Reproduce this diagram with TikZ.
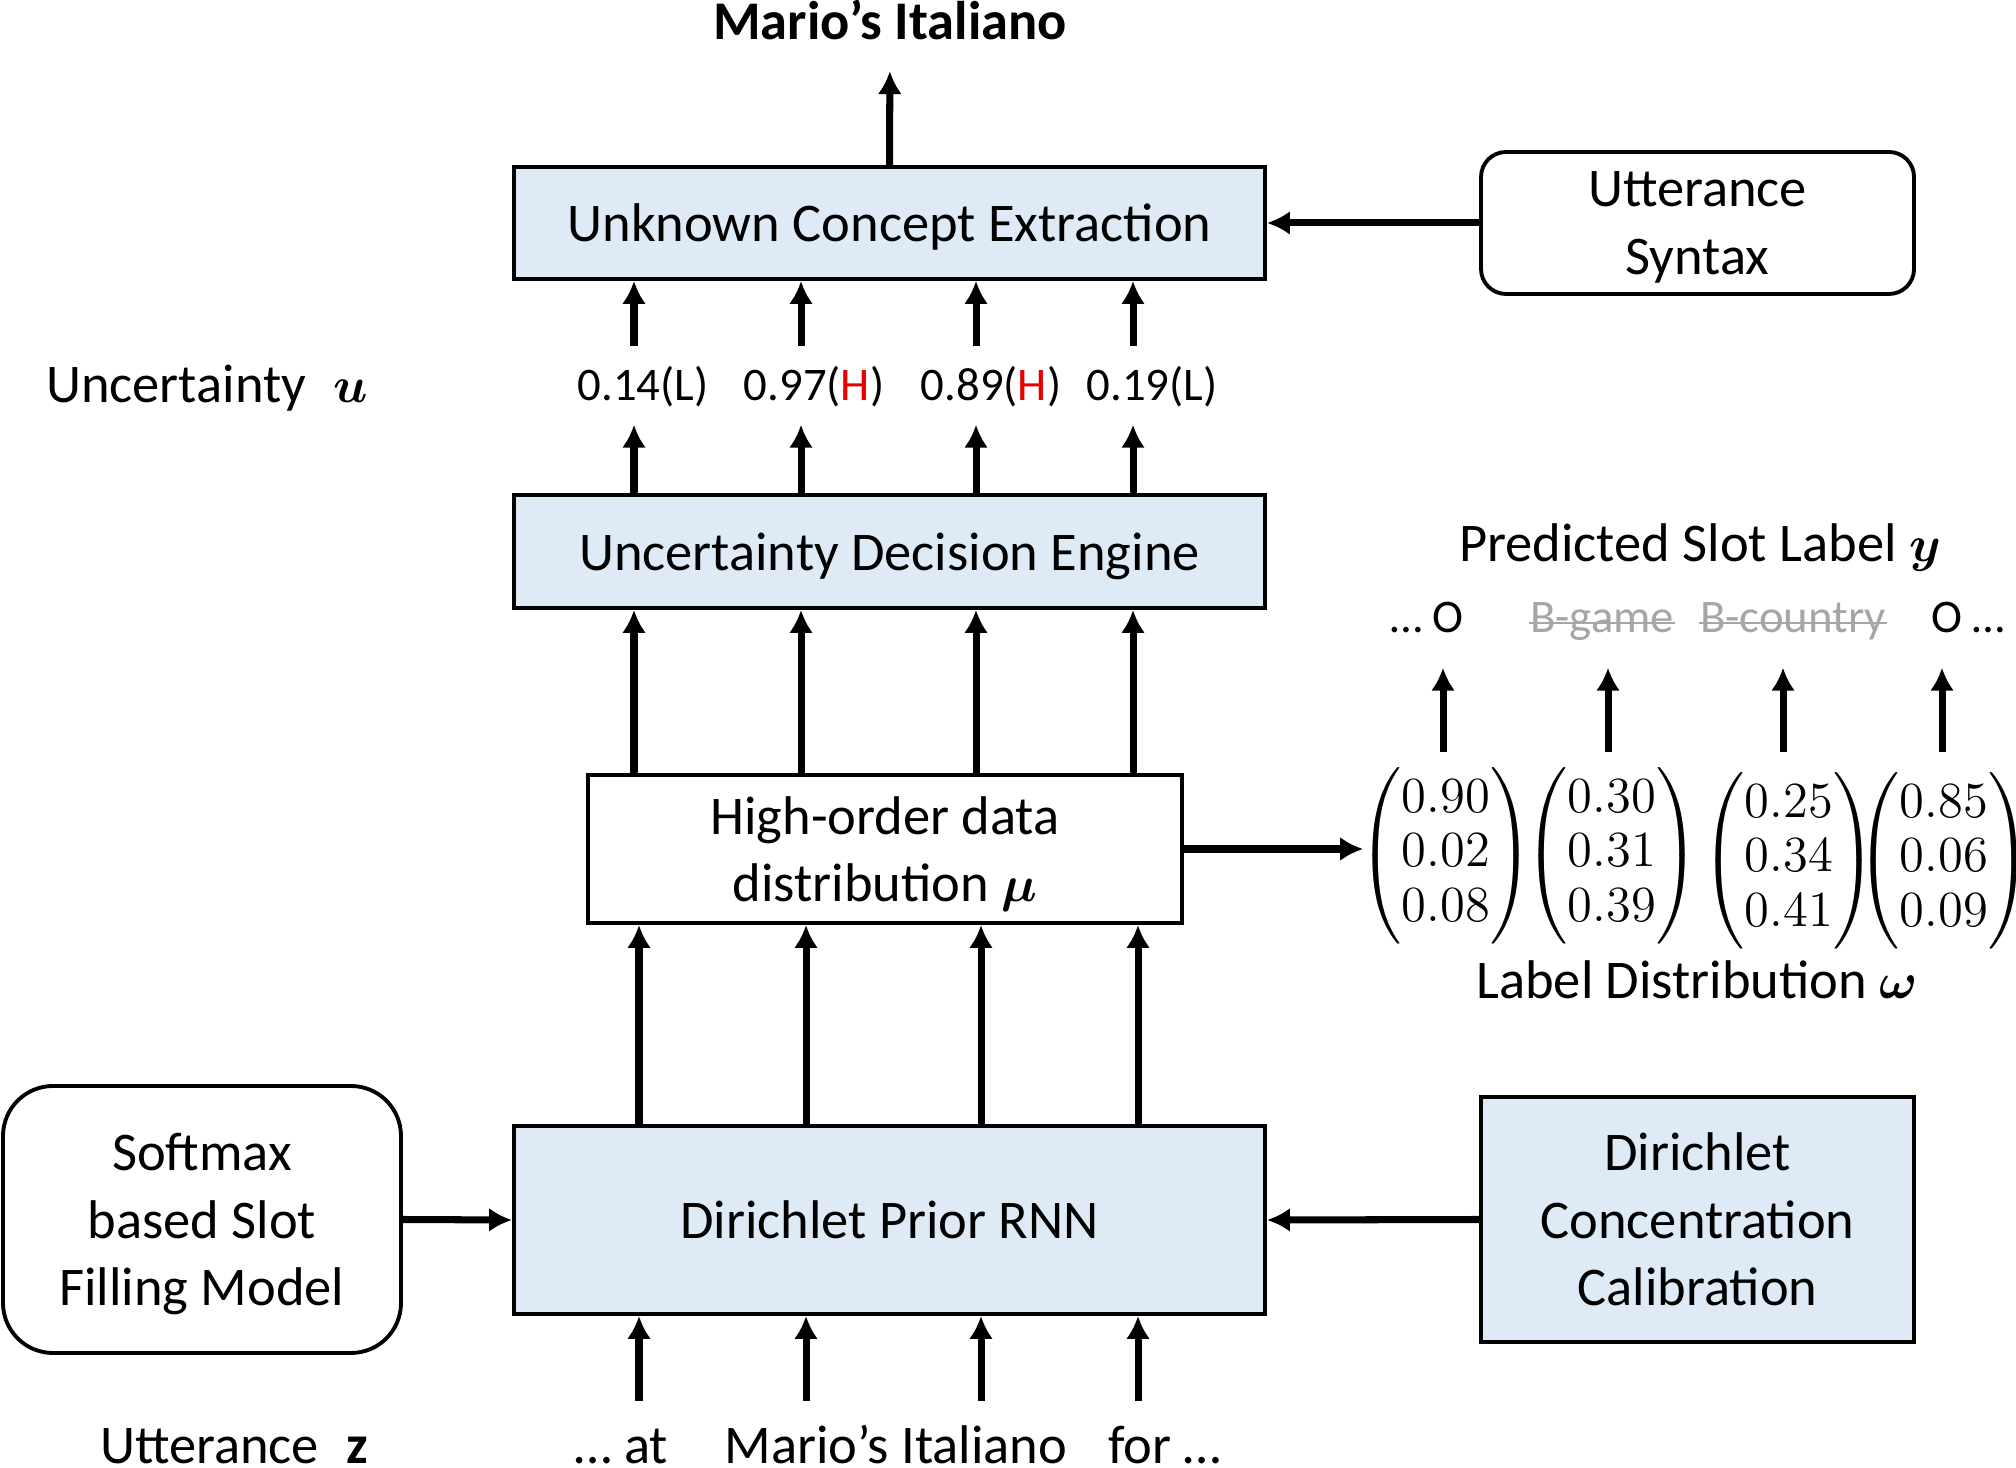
\documentclass[tikz,border=0pt]{standalone}
\usepackage{amsmath, amssymb, bm}
\usepackage[no-math]{fontspec}
\setmainfont{Carlito}
\usetikzlibrary{arrows.meta,positioning,calc}

\definecolor{boxblue}{RGB}{222,235,247}
\definecolor{strikegray}{RGB}{166,166,166}
\definecolor{hred}{RGB}{230,0,0}

\newcommand{\mainsize}{\fontsize{15.5}{19.2}\selectfont}
\newcommand{\valsize}{\fontsize{13.3}{16}\selectfont}
\newcommand{\vecsize}{\fontsize{14}{15.6}\selectfont}

\tikzset{
  layer/.style={draw,line width=1.1pt,fill=boxblue,minimum width=7.51cm,inner sep=0pt,text depth=0pt,font=\mainsize,align=center},
  plainbox/.style={draw,line width=1.1pt,inner sep=0pt,text depth=0pt,font=\mainsize,align=center},
  sidebox/.style={draw,line width=1.1pt,rounded corners=0.25cm,inner sep=0pt,text depth=0pt,font=\mainsize,align=center},
  flow/.style={-{Latex[length=0.23cm,width=0.24cm]},line width=2pt},
  txt/.style={font=\mainsize,anchor=base,inner sep=0pt},
  val/.style={font=\valsize,anchor=base,inner sep=0pt,text depth=0.12cm,text height=0.35cm},
  slotlab/.style={font=\valsize,anchor=base,inner sep=0pt,text depth=0.1cm,text height=0.33cm},
  struck/.style={slotlab,text=strikegray},
  strikeline/.style={strikegray,line width=0.7pt},
  vecnode/.style={font=\vecsize,inner sep=0pt}
}

\begin{document}
\begin{tikzpicture}
\useasboundingbox (0,0) rectangle (20.16,14.67);

% main stack
\node[layer,minimum height=1.12cm] (uce) at (8.895,12.44) {Unknown Concept Extraction};
\node[layer,minimum height=1.13cm] (ude) at (8.895,9.155) {Uncertainty Decision Engine};
\node[plainbox,minimum width=5.94cm,minimum height=1.48cm] (hod) at (8.85,6.18) {High-order data\\distribution $\bm{\mu}$};
\node[layer,minimum height=1.88cm] (dpr) at (8.895,2.47) {Dirichlet Prior RNN};

% side boxes
\node[sidebox,minimum width=4.33cm,minimum height=1.42cm] (syn) at (16.975,12.44) {Utterance\\Syntax};
\node[sidebox,rounded corners=0.5cm,minimum width=3.98cm,minimum height=2.67cm] (soft) at (2.02,2.475) {Softmax\\based Slot\\Filling Model};
\node[layer,minimum width=4.33cm,minimum height=2.45cm] (dcc) at (16.975,2.475) {Dirichlet\\Concentration\\Calibration};

\node[txt,font=\mainsize\bfseries] (out) at (8.90,14.27) {Mario’s Italiano};
\draw[flow,shorten >=0.30cm] (uce.north) -- (out.south);
\draw[flow] (syn.west) -- (uce.east);
\draw[flow] (soft.east) -- (dpr.west);
\draw[flow] (dcc.west) -- (dpr.east);

% uncertainty values
\node[txt] (unc) at (2.07,10.64) {Uncertainty\enspace$\bm{u}$};
\foreach \i/\x/\xv/\t in {1/6.34/6.43/{0.14(L)},2/8.01/8.14/{0.97(\textcolor{hred}{H})},3/9.76/9.91/{0.89(\textcolor{hred}{H})},4/11.33/11.52/{0.19(L)}}{
  \coordinate (t\i) at (\x,0);
  \node[val] (v\i) at (\xv,10.66) {\t};
  \draw[flow,shorten >=0.11cm] (ude.north -| t\i) -- (v\i.south -| t\i);
  \draw[flow,shorten <=0.19cm] (v\i.north -| t\i) -- (uce.south -| t\i);
  \draw[flow] (hod.north -| t\i) -- (ude.south -| t\i);
}

% inputs
\foreach \i/\x in {1/6.39,2/8.06,3/9.81,4/11.38}{
  \coordinate (in\i) at (\x,0.66);
  \draw[flow] (dpr.north -| in\i) -- (hod.south -| in\i);
  \draw[flow] (in\i) -- (dpr.south -| in\i);
}
\node[txt] (utt) at (2.34,0.04) {Utterance\enspace\textbf{z}};
\node[txt] (wat) at (6.21,0.04) {… at};
\node[txt] (wmario) at (8.96,0.04) {Mario’s Italiano};
\node[txt] (wfor) at (11.65,0.04) {for …};

% label distributions
\foreach \i/\x/\y/\ea/\eb/\ec in {1/14.46/6.11/0.90/0.02/0.08,2/16.12/6.11/0.30/0.31/0.39,3/17.89/6.06/0.25/0.34/0.41,4/19.44/6.06/0.85/0.06/0.09}
  \node[vecnode] (om\i) at (\x,\y) {$\begin{pmatrix}\ea\\\eb\\\ec\end{pmatrix}$};
\draw[flow,shorten >=-0.05cm] (hod.east) -- (om1.west |- hod.east);
\node[txt] (distlab) at (16.97,4.68) {Label Distribution $\bm{\omega}$};

% predicted slot labels
\node[slotlab] (lab1) at (14.27,8.34) {… O};
\node[struck] (lab2) at (16.02,8.34) {B-game};
\node[struck] (lab3) at (17.93,8.34) {B-country};
\node[slotlab] (lab4) at (19.68,8.34) {O …};
\foreach \i in {2,3}
  \draw[strikeline] ([yshift=0.1cm]lab\i.base west) -- ([yshift=0.1cm]lab\i.base east);
\foreach \i/\x in {1/14.43,2/16.08,3/17.83,4/19.42}{
  \coordinate (lt\i) at (\x,7.15);
  \draw[flow,shorten >=0.24cm] (lt\i) -- (lab\i.south -| lt\i);
}
\node[txt] (predlab) at (17.00,9.05) {Predicted Slot Label $\bm{y}$};
\end{tikzpicture}
\end{document}
